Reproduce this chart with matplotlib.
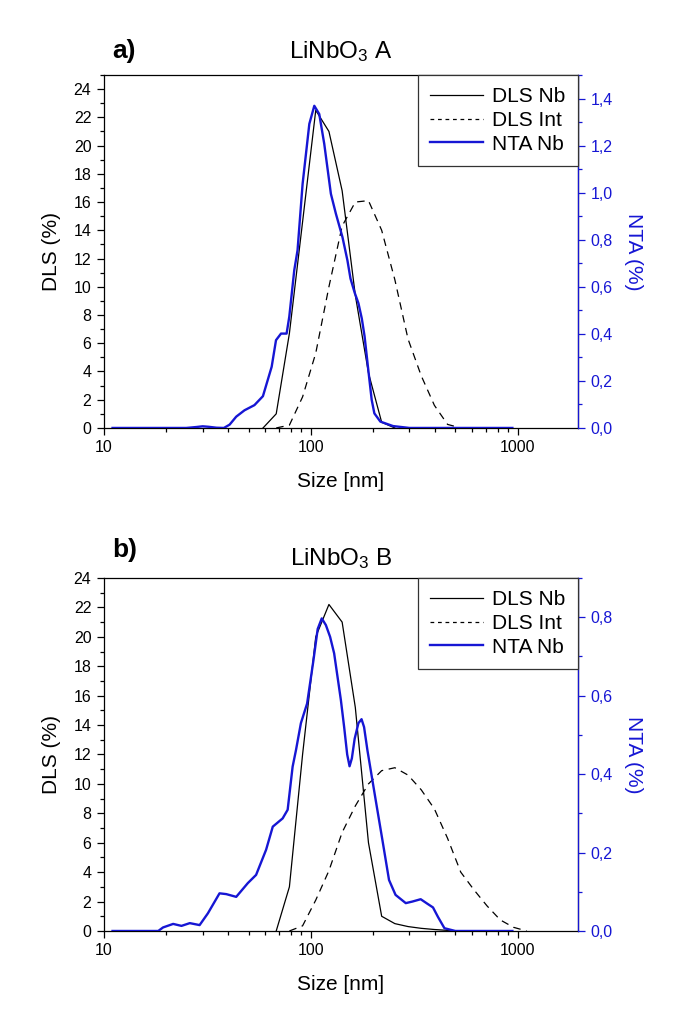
import matplotlib
matplotlib.use('Agg')
import matplotlib.pyplot as plt
from matplotlib.ticker import MultipleLocator, FuncFormatter, LogLocator, NullFormatter
from matplotlib.lines import Line2D

plt.rcParams['font.family'] = ['Liberation Sans', 'DejaVu Sans']
plt.rcParams['mathtext.default'] = 'regular'

BLUE = '#1616d4'

# ---- panel a) LiNbO3 A ----
dls_a_nb_size = [58.77, 68.06, 78.82, 91.28, 105.7, 122.4, 141.8, 164.2, 190.1, 220.2, 255.0]
dls_a_nb = [0, 1.0, 6.7, 14.6, 22.5, 21.0, 16.8, 9.4, 3.9, 0.4, 0]

dls_a_int_size = [68.06, 78.82, 91.28, 105.7, 122.4, 141.8, 164.2, 190.1, 220.2, 255.0,
                  295.3, 342.0, 396.1, 458.7, 531.2]
dls_a_int = [0, 0.2, 2.2, 5.3, 10.0, 14.3, 16.0, 16.1, 14.0, 10.5, 6.3, 3.7, 1.6, 0.25, 0]

nta_a_size = [11, 25, 28, 30, 32, 35, 38, 40.5, 43.6, 47.8, 53.4, 58.7, 64.7, 67.9, 71.8,
              76.4, 78.7, 83.2, 86.3, 91.3, 98.4, 104, 109.9, 116.2, 125.1, 132.3, 142.3,
              150.4, 155.6, 163, 170, 176.5, 182, 189, 197, 203, 217, 250, 300, 944]
nta_a = [0, 0, 0.004, 0.007, 0.005, 0.001, 0, 0.014, 0.048, 0.075, 0.097, 0.135, 0.26,
         0.373, 0.401, 0.401, 0.472, 0.67, 0.755, 1.037, 1.292, 1.369, 1.334, 1.207, 0.995,
         0.91, 0.811, 0.712, 0.635, 0.575, 0.53, 0.465, 0.39, 0.26, 0.12, 0.062, 0.027, 0.008,
         0, 0]

# ---- panel b) LiNbO3 B ----
dls_b_nb_size = [68.06, 78.82, 91.28, 105.7, 122.4, 141.8, 164.2, 190.1, 220.2, 255.0,
                 295.3, 342.0, 396.1, 458.7, 531.2]
dls_b_nb = [0, 3.0, 12.0, 20.0, 22.2, 21.0, 15.2, 6.0, 1.0, 0.5, 0.3, 0.18, 0.1, 0.04, 0]

dls_b_int_size = [78.82, 91.28, 105.7, 122.4, 141.8, 164.2, 190.1, 220.2, 255.0, 295.3,
                  342.0, 396.1, 458.7, 531.2, 615.1, 712.4, 825.0, 955.4, 1106]
dls_b_int = [0, 0.35, 2.1, 4.1, 6.7, 8.5, 10.0, 10.9, 11.1, 10.6, 9.6, 8.3, 6.3, 4.0,
             2.8, 1.7, 0.75, 0.25, 0]

nta_b_size = [11, 18.3, 19.3, 21.6, 23.7, 26.0, 29.0, 31.8, 36.2, 39.0, 43.6, 49.6, 54.4,
              60.8, 65.5, 73.1, 77.3, 81.7, 84.8, 89.6, 96, 103, 108, 113, 118.3, 124,
              129.7, 139.8, 145, 150, 154, 158, 163, 170, 176, 181, 188, 206, 222, 239,
              257, 288, 310, 340, 365, 390, 412, 443, 500, 944]
nta_b = [0, 0, 0.009, 0.018, 0.013, 0.02, 0.015, 0.045, 0.096, 0.094, 0.087, 0.122, 0.143,
         0.207, 0.266, 0.287, 0.309, 0.419, 0.461, 0.53, 0.58, 0.69, 0.77, 0.797, 0.78, 0.75,
         0.708, 0.589, 0.52, 0.45, 0.42, 0.44, 0.49, 0.53, 0.54, 0.52, 0.46, 0.334, 0.232,
         0.13, 0.092, 0.071, 0.075, 0.081, 0.07, 0.06, 0.036, 0.007, 0, 0]

comma = FuncFormatter(lambda v, p: f'{v:.1f}'.replace('.', ','))


def draw_panel(rect, letter, title, x_nb, y_nb, x_int, y_int, x_nta, y_nta,
               ymax, ymax2, nta_ticks, title_y, letter_y):
    ax = fig.add_axes(rect)
    ax2 = ax.twinx()

    ax.plot(x_nb, y_nb, color='black', lw=0.9)
    ax.plot(x_int, y_int, color='black', lw=0.9, linestyle=(0, (6, 4.5)))
    ax2.plot(x_nta, y_nta, color=BLUE, lw=1.7)

    ax.set_xscale('log')
    ax.set_xlim(10, 1960)
    ax.set_ylim(0, ymax)
    ax2.set_ylim(0, ymax2)

    ax.set_xticks([10, 100, 1000])
    ax.xaxis.set_major_formatter(FuncFormatter(lambda v, p: f'{v:g}'))
    ax.xaxis.set_minor_locator(LogLocator(base=10, subs=range(2, 10)))
    ax.xaxis.set_minor_formatter(NullFormatter())
    ax.yaxis.set_major_locator(MultipleLocator(2))
    ax.yaxis.set_minor_locator(MultipleLocator(1))
    ax2.set_yticks(nta_ticks)
    ax2.yaxis.set_minor_locator(MultipleLocator(0.1))
    ax2.yaxis.set_major_formatter(comma)

    ax.tick_params(which='both', direction='out', labelsize=11.5, width=0.9, pad=4)
    ax.tick_params(which='major', length=5)
    ax.tick_params(which='minor', length=3)
    ax.tick_params(axis='y', right=False)
    ax2.tick_params(which='both', direction='out', colors=BLUE, labelsize=11.5, width=0.9, pad=4)
    ax2.tick_params(which='major', length=5)
    ax2.tick_params(which='minor', length=3)

    for s in ax.spines.values():
        s.set_linewidth(0.9)
    ax2.spines['right'].set_color(BLUE)
    ax2.spines['right'].set_linewidth(0.9)
    for s in ['left', 'top', 'bottom']:
        ax2.spines[s].set_visible(False)

    ax.set_xlabel('Size [nm]', fontsize=15, labelpad=12)
    ax.set_ylabel('DLS (%)', fontsize=15, labelpad=9)
    ax2.set_ylabel('NTA (%)', fontsize=15, color=BLUE, rotation=270, va='bottom', labelpad=8)

    ax.text(0.017, letter_y, letter, transform=ax.transAxes, fontsize=19,
            fontweight='bold', ha='left', va='baseline')
    ax.text(0.5, title_y, title, transform=ax.transAxes, fontsize=17.5,
            ha='center', va='baseline')

    handles = [Line2D([], [], color='black', lw=0.9),
               Line2D([], [], color='black', lw=0.9, linestyle=(0, (3, 3))),
               Line2D([], [], color=BLUE, lw=1.7)]
    leg = ax2.legend(handles, ['DLS Nb', 'DLS Int', 'NTA Nb'], loc='upper right',
                     borderaxespad=0, fontsize=15, frameon=True, fancybox=False,
                     edgecolor='#333333', framealpha=1, handlelength=2.55,
                     handletextpad=0.43, labelspacing=0.22, borderpad=0.6)
    leg.get_frame().set_linewidth(0.9)
    return ax, ax2


fig = plt.figure(figsize=(6.85, 10.27), dpi=100)

draw_panel([0.1518, 0.5833, 0.6920, 0.3437], 'a)', r'LiNbO$_3$ A',
           dls_a_nb_size, dls_a_nb, dls_a_int_size, dls_a_int, nta_a_size, nta_a,
           25, 1.5, [0, 0.2, 0.4, 0.6, 0.8, 1.0, 1.2, 1.4], 1.048, 1.048)

draw_panel([0.1518, 0.0935, 0.6920, 0.3437], 'b)', r'LiNbO$_3$ B',
           dls_b_nb_size, dls_b_nb, dls_b_int_size, dls_b_int, nta_b_size, nta_b,
           24, 0.9, [0, 0.2, 0.4, 0.6, 0.8], 1.037, 1.059)

fig.savefig('out.png', dpi=100)
